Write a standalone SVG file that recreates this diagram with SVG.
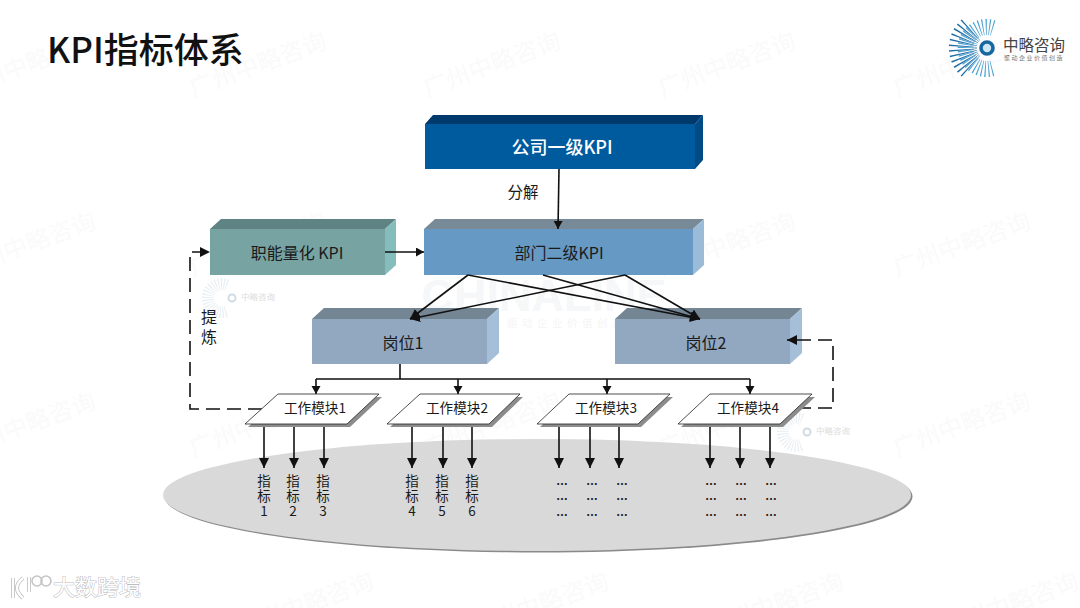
<svg xmlns="http://www.w3.org/2000/svg" width="1080" height="608" viewBox="0 0 1080 608">
<style>
text{font-family:"Noto Sans CJK SC","Noto Sans",sans-serif;text-anchor:middle;fill:#1a1a1a}
.wm text{fill:#fafafb;font-size:24px;text-anchor:start}
.lab{font-size:16px}
.mod{font-size:13.6px}
.ind text{font-size:13.500px}
.dots text{font-size:12px;font-family:"Liberation Sans",sans-serif;font-weight:bold;fill:#222}
.ln{fill:none;stroke:#111;stroke-width:1.6}
.dash{fill:none;stroke:#111;stroke-width:1.6;stroke-dasharray:14 7}
.para{fill:#fff;stroke:#222;stroke-width:.8}
.shadow{fill:#8c8c8c}
</style>
<defs>
<marker id="ah" markerUnits="userSpaceOnUse" markerWidth="10" markerHeight="10" refX="8" refY="4.5" orient="auto"><path d="M0 0L8 4.5L0 9z" fill="#111"/></marker>
<marker id="am" markerUnits="userSpaceOnUse" markerWidth="12" markerHeight="12" refX="10" refY="5" orient="auto"><path d="M0 0L10 5L0 10z" fill="#111"/></marker>
<g id="mini">
<path d="M-5 -13A14 14 0 1 0 -5 13" fill="none" stroke="#e8eef2" stroke-width="12" stroke-dasharray="1 1.600"/>
<circle r="3.500" fill="#fff" stroke="#d0dbe3" stroke-width="2"/>
<text x="9" y="2" style="font-size:8.500px;text-anchor:start;fill:#dcdcdc">中略咨询</text>
</g>
</defs>
<rect width="1080" height="608" fill="#fff"/>
<g id="watermarks" class="wm">
<text transform="translate(-38 97) rotate(-20)">广州中略咨询</text>
<text transform="translate(193 97) rotate(-20)">广州中略咨询</text>
<text transform="translate(427 97) rotate(-20)">广州中略咨询</text>
<text transform="translate(662 97) rotate(-20)">广州中略咨询</text>
<text transform="translate(897 97) rotate(-20)">广州中略咨询</text>
<text transform="translate(-38 277) rotate(-20)">广州中略咨询</text>
<text transform="translate(193 277) rotate(-20)">广州中略咨询</text>
<text transform="translate(662 277) rotate(-20)">广州中略咨询</text>
<text transform="translate(897 277) rotate(-20)">广州中略咨询</text>
<text transform="translate(-38 457) rotate(-20)">广州中略咨询</text>
<text transform="translate(193 457) rotate(-20)">广州中略咨询</text>
<text transform="translate(427 457) rotate(-20)">广州中略咨询</text>
<text transform="translate(662 457) rotate(-20)">广州中略咨询</text>
<text transform="translate(897 457) rotate(-20)">广州中略咨询</text>
<text transform="translate(240 637) rotate(-20)">广州中略咨询</text>
<text transform="translate(475 637) rotate(-20)">广州中略咨询</text>
<text transform="translate(710 637) rotate(-20)">广州中略咨询</text>
<text transform="translate(945 637) rotate(-20)">广州中略咨询</text>
</g>
<text x="544" y="311" style="font-size:45px;font-weight:bold;font-family:'Liberation Sans',sans-serif;fill:#f6f7f8">CHINALINE</text>
<text x="507" y="327" style="font-size:10.500px;letter-spacing:4.500px;text-anchor:start;fill:#f5f5f5">驱动企业价值创造</text>
<use href="#mini" x="232" y="298"/>
<use href="#mini" x="807" y="432"/>
<text x="47" y="63" style="font-size:35px;font-weight:500;fill:#111;text-anchor:start">KPI指标体系</text>
<g id="logo">
<path d="M993 28A21 21 0 1 0 993 68" fill="none" stroke="#4fa3d1" stroke-width="16" stroke-dasharray="1 2.200"/>
<path d="M971 30A24 24 0 0 0 971 66" fill="none" stroke="#1f6ea8" stroke-width="28" stroke-dasharray="1 2.600"/>
<circle cx="987" cy="48" r="6" fill="#cfe6f3" stroke="#17689f" stroke-width="3.600"/>
<text x="1034" y="51" style="font-size:15.500px;fill:#444">中略咨询</text>
<text x="1034" y="60" style="font-size:6px;fill:#777;letter-spacing:1.500px">聚动企业价值创造</text>
</g>
<g id="brand">
<path d="M13 578V598M23 578Q11 588 23 598M29 577V592" fill="none" stroke="#bdbdbd" stroke-width="4"/>
<path d="M13 578V598M23 578Q11 588 23 598M29 577V592" fill="none" stroke="#fff" stroke-width="2.400"/>
<ellipse cx="37" cy="581" rx="5" ry="5" fill="none" stroke="#c4c4c4" stroke-width="1.600"/>
<ellipse cx="46" cy="581" rx="5" ry="5" fill="none" stroke="#c4c4c4" stroke-width="1.600"/>
<text x="97" y="595" style="font-size:22px;fill:#fff;stroke:#bdbdbd;stroke-width:1;paint-order:stroke">大数跨境</text>
</g>
<g id="ellipse">
<ellipse cx="538.500" cy="496.500" rx="374" ry="56" fill="#8a8a8a"/>
<ellipse cx="537" cy="495" rx="374" ry="56" fill="#d9d9d9"/>
</g>
<g id="node-company">
<polygon points="425,124 433,115 703,115 695,124" fill="#003a6c"/>
<polygon points="695,124 703,115 703,160 695,169" fill="#004a85"/>
<rect x="425" y="124" width="270" height="45" fill="#005a9e"/>
<text x="562" y="154" style="font-size:18px;font-weight:500;fill:#fff">公司一级KPI</text>
</g>
<g id="node-func">
<polygon points="210,229 221,219 396,219 385,229" fill="#5f8282"/>
<polygon points="385,229 396,219 396,265 385,275" fill="#85bcbc"/>
<rect x="210" y="229" width="175" height="46" fill="#77a3a3"/>
<text x="297" y="259" class="lab">职能量化 KPI</text>
</g>
<g id="node-dept">
<polygon points="424,229 435,219 704,219 693,229" fill="#788a98"/>
<polygon points="693,229 704,219 704,265 693,275" fill="#9bbcd8"/>
<rect x="424" y="229" width="269" height="46" fill="#6699c4"/>
<text x="559" y="259" class="lab">部门二级KPI</text>
</g>
<g id="node-post1">
<polygon points="312,319 324,308 499,308 487,319" fill="#748594"/>
<polygon points="487,319 499,308 499,353 487,364" fill="#a5bfd8"/>
<rect x="312" y="319" width="175" height="45" fill="#92a8c0"/>
<text x="403" y="349" class="lab">岗位1</text>
</g>
<g id="node-post2">
<polygon points="615,319 627,308 802,308 790,319" fill="#748594"/>
<polygon points="790,319 802,308 802,353 790,364" fill="#a5bfd8"/>
<rect x="615" y="319" width="175" height="45" fill="#92a8c0"/>
<text x="706" y="349" class="lab">岗位2</text>
</g>
<g id="connectors">
<path class="ln" d="M559 169L558 229" marker-end="url(#ah)"/>
<path class="ln" d="M385 252H424" marker-end="url(#ah)"/>
<path class="ln" d="M468 275L410 319" marker-end="url(#am)"/>
<path class="ln" d="M625 275L410 319" marker-end="url(#am)"/>
<path class="ln" d="M468 275L700 319" marker-end="url(#am)"/>
<path class="ln" d="M543 275L700 319" marker-end="url(#am)"/>
<path class="ln" d="M625 275L700 319" marker-end="url(#am)"/>
<path class="ln" d="M400 364V379M316 379H750"/>
<path class="ln" d="M316 379V394" marker-end="url(#ah)"/>
<path class="ln" d="M458 379V394" marker-end="url(#ah)"/>
<path class="ln" d="M607 379V394" marker-end="url(#ah)"/>
<path class="ln" d="M750 379V394" marker-end="url(#ah)"/>
<path class="dash" d="M262 409H190V252H210" marker-end="url(#am)"/>
<path class="dash" d="M797 408H833V340H787" marker-end="url(#am)"/>
<path class="ln" d="M264 424V468" marker-end="url(#am)"/>
<path class="ln" d="M294 424V468" marker-end="url(#am)"/>
<path class="ln" d="M324 424V468" marker-end="url(#am)"/>
<path class="ln" d="M412 424V468" marker-end="url(#am)"/>
<path class="ln" d="M443 424V468" marker-end="url(#am)"/>
<path class="ln" d="M472 424V468" marker-end="url(#am)"/>
<path class="ln" d="M559 424V468" marker-end="url(#am)"/>
<path class="ln" d="M590 424V468" marker-end="url(#am)"/>
<path class="ln" d="M619 424V468" marker-end="url(#am)"/>
<path class="ln" d="M710 424V468" marker-end="url(#am)"/>
<path class="ln" d="M740 424V468" marker-end="url(#am)"/>
<path class="ln" d="M770 424V468" marker-end="url(#am)"/>
</g>
<text x="523" y="198" style="font-size:15.500px">分解</text>
<g id="node-mod1">
<polygon class="shadow" points="281,397 382,397 350,427 248,427"/>
<polygon class="para" points="278,394 379,394 347,424 245,424"/>
<text x="315" y="413" class="mod">工作模块1</text>
</g>
<g id="node-mod2">
<polygon class="shadow" points="423,397 523,397 492,427 390,427"/>
<polygon class="para" points="420,394 520,394 489,424 387,424"/>
<text x="457" y="413" class="mod">工作模块2</text>
</g>
<g id="node-mod3">
<polygon class="shadow" points="572,397 673,397 641,427 540,427"/>
<polygon class="para" points="569,394 670,394 638,424 537,424"/>
<text x="606" y="413" class="mod">工作模块3</text>
</g>
<g id="node-mod4">
<polygon class="shadow" points="713,397 815,397 783,427 681,427"/>
<polygon class="para" points="710,394 812,394 780,424 678,424"/>
<text x="748" y="413" class="mod">工作模块4</text>
</g>
<text x="209" y="323" class="lab">提</text>
<text x="209" y="343" class="lab">炼</text>
<g class="ind">
<text x="264" y="486">指</text><text x="264" y="501">标</text><text x="264" y="516">1</text>
<text x="293" y="486">指</text><text x="293" y="501">标</text><text x="293" y="516">2</text>
<text x="323" y="486">指</text><text x="323" y="501">标</text><text x="323" y="516">3</text>
<text x="412" y="486">指</text><text x="412" y="501">标</text><text x="412" y="516">4</text>
<text x="442" y="486">指</text><text x="442" y="501">标</text><text x="442" y="516">5</text>
<text x="472" y="486">指</text><text x="472" y="501">标</text><text x="472" y="516">6</text>
</g>
<g class="dots">
<text x="562" y="485">…</text><text x="562" y="500">…</text><text x="562" y="516">…</text>
<text x="592" y="485">…</text><text x="592" y="500">…</text><text x="592" y="516">…</text>
<text x="622" y="485">…</text><text x="622" y="500">…</text><text x="622" y="516">…</text>
<text x="711" y="485">…</text><text x="711" y="500">…</text><text x="711" y="516">…</text>
<text x="741" y="485">…</text><text x="741" y="500">…</text><text x="741" y="516">…</text>
<text x="771" y="485">…</text><text x="771" y="500">…</text><text x="771" y="516">…</text>
</g>
</svg>
